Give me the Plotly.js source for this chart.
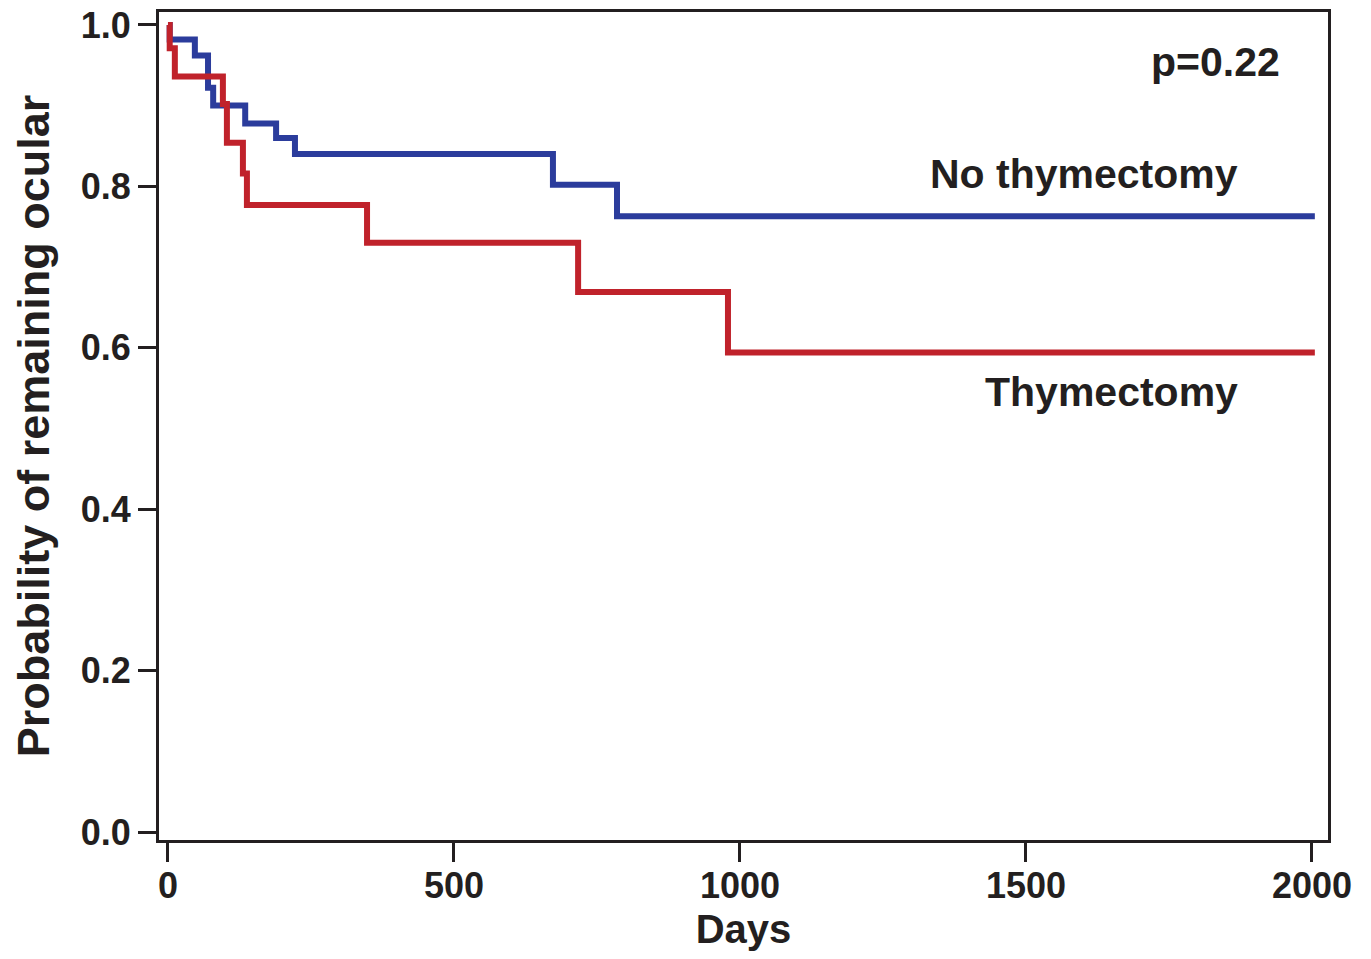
<!DOCTYPE html>
<html>
<head>
<meta charset="utf-8">
<script src="https://cdn.plot.ly/plotly-3.0.1.min.js"></script>
<style>html,body{margin:0;padding:0;background:#fff;}#chart{width:1371px;height:959px;}</style>
</head>
<body>
<div id="chart"></div>
<script>
// Kaplan-Meier step data
const noThymDays = [0, 3, 47, 70, 79, 135, 189, 222, 673, 785, 2005];
const noThymSurv = [1.0, 0.982, 0.962, 0.922, 0.900, 0.878, 0.860, 0.840, 0.802, 0.763, 0.763];
const thymDays = [0, 3, 12, 96, 103, 131, 138, 348, 717, 979, 2005];
const thymSurv = [1.0, 0.971, 0.936, 0.902, 0.854, 0.816, 0.777, 0.730, 0.669, 0.594, 0.594];
const xTicks = [0, 500, 1000, 1500, 2000];
const yTicks = [0.0, 0.2, 0.4, 0.6, 0.8, 1.0];
const yTickText = ['0.0', '0.2', '0.4', '0.6', '0.8', '1.0'];
const pText = 'p=0.22';
const labelNo = 'No thymectomy';
const labelThym = 'Thymectomy';

const FONT = 'Liberation Sans, Arial, Helvetica, sans-serif';
const INK = '#231f20';

const traces = [
  {x: noThymDays, y: noThymSurv, mode: 'lines', line: {shape: 'hv', color: '#2b3c9c', width: 6}, name: labelNo, hoverinfo: 'skip'},
  {x: thymDays, y: thymSurv, mode: 'lines', line: {shape: 'hv', color: '#c0222b', width: 6}, name: labelThym, hoverinfo: 'skip'}
];

const layout = {
  width: 1371, height: 959,
  margin: {l: 159, r: 43, t: 12, b: 119},
  paper_bgcolor: '#fff', plot_bgcolor: '#fff',
  showlegend: false,
  font: {family: FONT, color: INK, weight: 'bold'},
  xaxis: {
    range: [-15.7, 2028], tickvals: xTicks, ticktext: xTicks.map(String),
    ticks: 'outside', ticklen: 19, tickwidth: 3, tickcolor: INK,
    showline: true, mirror: true, linecolor: INK, linewidth: 3,
    showgrid: false, zeroline: false, ticklabelstandoff: -7,
    tickfont: {family: FONT, size: 36, color: INK, weight: 'bold'},
    title: {text: 'Days', font: {family: FONT, size: 40, color: INK, weight: 'bold'}, standoff: 10}
  },
  yaxis: {
    range: [-0.0099, 1.016], tickvals: yTicks, ticktext: yTickText,
    ticks: 'outside', ticklen: 18, tickwidth: 3, tickcolor: INK,
    showline: true, mirror: true, linecolor: INK, linewidth: 3,
    showgrid: false, zeroline: false,
    tickfont: {family: FONT, size: 36, color: INK, weight: 'bold'},
    title: {text: 'Probability of remaining ocular', font: {family: FONT, size: 45, color: INK, weight: 'bold'}, standoff: 18}
  },
  annotations: [
    {x: 1948, y: 0.954, xref: 'x', yref: 'y', text: pText, showarrow: false, xanchor: 'right', yanchor: 'middle', font: {family: FONT, size: 41, color: INK, weight: 'bold'}},
    {x: 1874, y: 0.815, xref: 'x', yref: 'y', text: labelNo, showarrow: false, xanchor: 'right', yanchor: 'middle', font: {family: FONT, size: 41, color: INK, weight: 'bold'}},
    {x: 1874, y: 0.545, xref: 'x', yref: 'y', text: labelThym, showarrow: false, xanchor: 'right', yanchor: 'middle', font: {family: FONT, size: 41, color: INK, weight: 'bold'}}
  ]
};

Plotly.newPlot('chart', traces, layout, {displayModeBar: false, staticPlot: true});
</script>
</body>
</html>
